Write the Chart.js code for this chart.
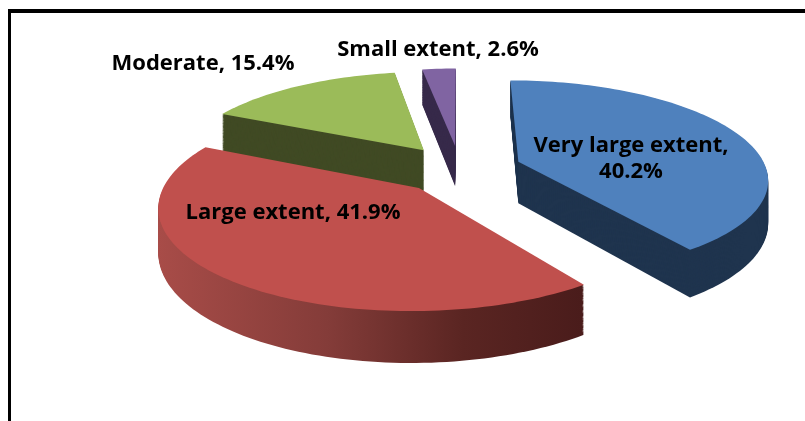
<!DOCTYPE html>
<html>
<head>
<meta charset="utf-8">
<script src="https://cdn.jsdelivr.net/npm/chart.js@4/dist/chart.umd.min.js"></script>
<style>
html, body { margin: 0; padding: 0; background: #fff; overflow: hidden; }
canvas { display: block; }
</style>
</head>
<body>
<canvas id="pieChart" width="805" height="421"></canvas>
<script>
var categories = ['Very large extent', 'Large extent', 'Moderate', 'Small extent'];
var percentages = [40.2, 41.9, 15.4, 2.6];
var topColors = ['#4F81BD', '#C0504D', '#9BBB59', '#8064A2'];
var sideColors = ['#1F344E', null, '#404A24', '#372A4A'];

// perspective look of the pie, relative to the radius Chart.js gives us
var explode = 0.25;
var perspective = 0.16;
var stretchX = 248;
var stretchY = 96.5;
var depth = 42;

// label anchors (centre of text)
var labelSpots = [
    { x: 631, y: 159, lines: 2 },
    { x: 293, y: 213, lines: 1 },
    { x: 203, y: 64, lines: 1 },
    { x: 438, y: 50, lines: 1 }
];

function project(cx, cy, u, v, drop) {
    var s = 1 / (1 - perspective * v);
    return { x: cx + stretchX * u * s, y: cy + (stretchY * v + drop) * s };
}

function outline(arc) {
    var mid = (arc.startAngle + arc.endAngle) / 2;
    var u0 = explode * Math.cos(mid), v0 = explode * Math.sin(mid);
    var steps = Math.max(6, Math.round((arc.endAngle - arc.startAngle) * 40));
    var pts = [[u0, v0]];
    for (var i = 0; i <= steps; i++) {
        var a = arc.startAngle + (arc.endAngle - arc.startAngle) * i / steps;
        pts.push([u0 + Math.cos(a), v0 + Math.sin(a)]);
    }
    return pts;
}

function fillSlice(ctx, arc, pts, drop) {
    ctx.beginPath();
    pts.forEach(function (p, n) {
        var t = project(arc.x, arc.y, p[0], p[1], drop);
        if (n === 0) ctx.moveTo(t.x, t.y); else ctx.lineTo(t.x, t.y);
    });
    ctx.closePath();
    ctx.fill();
}

var pie3d = {
    id: 'pie3d',
    beforeDatasetsDraw: function (chart) {
        var ctx = chart.ctx;
        var arcs = chart.getDatasetMeta(0).data;

        ctx.save();
        // frame, it is cut off at the right and the bottom
        ctx.fillStyle = '#000';
        ctx.fillRect(8, 9, chart.width - 8, 4);
        ctx.fillRect(8, 9, 3, chart.height - 9);

        // back slices first
        var order = arcs.map(function (a, i) { return i; }).sort(function (a, b) {
            return Math.sin((arcs[a].startAngle + arcs[a].endAngle) / 2) -
                   Math.sin((arcs[b].startAngle + arcs[b].endAngle) / 2);
        });

        var redSide = ctx.createLinearGradient(158, 0, 582, 0);
        redSide.addColorStop(0, '#A84C48');
        redSide.addColorStop(0.4, '#843C39');
        redSide.addColorStop(0.72, '#5A2522');
        redSide.addColorStop(1, '#4A1C1B');

        order.forEach(function (i) {
            var arc = arcs[i];
            var pts = outline(arc);
            // stack the outline downwards for the wall
            ctx.fillStyle = sideColors[i] || redSide;
            for (var d = depth; d > 0; d--) {
                fillSlice(ctx, arc, pts, d);
            }
            ctx.fillStyle = topColors[i];
            fillSlice(ctx, arc, pts, 0);
        });

        // data labels
        ctx.fillStyle = '#000';
        ctx.font = 'bold 22px "Open Sans"';
        ctx.textAlign = 'center';
        ctx.textBaseline = 'middle';
        categories.forEach(function (name, i) {
            var spot = labelSpots[i];
            if (spot.lines === 2) {
                ctx.fillText(name + ',', spot.x, spot.y - 13);
                ctx.fillText(percentages[i].toFixed(1) + '%', spot.x, spot.y + 13);
            } else {
                ctx.fillText(name + ', ' + percentages[i].toFixed(1) + '%', spot.x, spot.y);
            }
        });
        ctx.restore();
        return false;
    }
};

var ctx = document.getElementById('pieChart').getContext('2d');
var capitalPie = new Chart(ctx, {
    type: 'pie',
    data: {
        labels: categories,
        datasets: [{
            data: percentages,
            backgroundColor: topColors,
            borderWidth: 0,
            offset: 113
        }]
    },
    options: {
        responsive: false,
        animation: false,
        layout: { padding: { left: 115, right: 0, top: 0, bottom: 83 } },
        plugins: {
            legend: { display: false },
            tooltip: { enabled: false }
        }
    },
    plugins: [pie3d]
});
</script>
</body>
</html>
